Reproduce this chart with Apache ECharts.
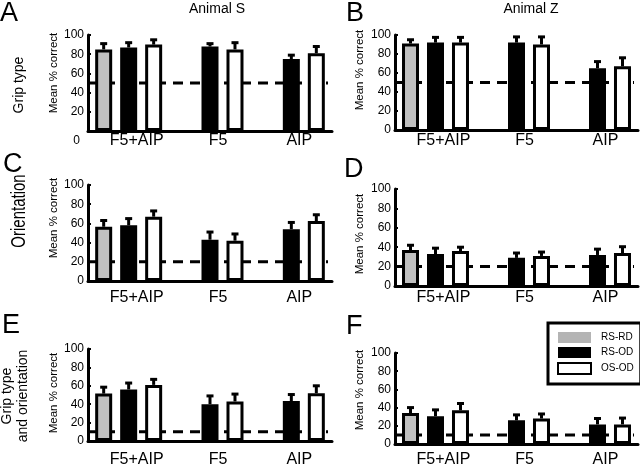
<!DOCTYPE html>
<html><head><meta charset="utf-8">
<script src="https://cdn.jsdelivr.net/npm/echarts@6/dist/echarts.min.js"></script>
<style>html,body{margin:0;padding:0;background:#fff}#c{width:640px;height:468px}</style>
</head><body><div id="c"></div>
<script>
// ---------------- data ----------------
const categories = ['F5+AIP', 'F5', 'AIP'];
const seriesNames = ['RS-RD', 'RS-OD', 'OS-OD'];
const yTicks = [0, 20, 40, 60, 80, 100];
const chanceLevel = [50, 50, 20, 20, 10, 10]; // panels A..F
const panelLetters = ['A', 'B', 'C', 'D', 'E', 'F'];
const columnTitles = ['Animal S', 'Animal Z'];
const rowTitles = ['Grip type', 'Orientation', 'Grip type\nand orientation'];
const yAxisTitle = 'Mean % correct';

// Panel A – Grip type, Animal S
const A_RSRD = [85, null, null], A_RSOD = [87, 88, 75], A_OSOD = [90, 85, 81];
const A_RSRD_err = [6, null, null], A_RSOD_err = [5, 3, 4], A_OSOD_err = [5, 7, 7];
// Panel B – Grip type, Animal Z
const B_RSRD = [91, null, null], B_RSOD = [92, 92, 65], B_OSOD = [92, 90, 67];
const B_RSRD_err = [4, null, null], B_RSOD_err = [5.5, 6, 7], B_OSOD_err = [5.5, 8, 9];
// Panel C – Orientation, Animal S
const C_RSRD = [56.5, null, null], C_RSOD = [58, 43, 54], C_OSOD = [67, 42, 62.5];
const C_RSRD_err = [6.5, null, null], C_RSOD_err = [7, 8, 7], C_OSOD_err = [6, 7, 6.5];
// Panel D – Orientation, Animal Z
const D_RSRD = [37, null, null], D_RSOD = [33, 29, 32], D_OSOD = [36, 31, 34];
const D_RSRD_err = [5, null, null], D_RSOD_err = [6, 5, 6], D_OSOD_err = [4, 4, 6.5];
// Panel E – Grip type and orientation, Animal S
const E_RSRD = [51.5, null, null], E_RSOD = [56, 40, 43.5], E_OSOD = [61, 43, 52];
const E_RSRD_err = [7, null, null], E_RSOD_err = [7, 9, 7], E_OSOD_err = [6, 8, 8];
// Panel F – Grip type and orientation, Animal Z
const F_RSRD = [34, null, null], F_RSOD = [30.5, 26, 21.5], F_OSOD = [37, 28, 21.5];
const F_RSRD_err = [6, null, null], F_RSOD_err = [7, 6, 6.5], F_OSOD_err = [7.5, 5, 7];

const panelValues = [
  [A_RSRD, A_RSOD, A_OSOD], [B_RSRD, B_RSOD, B_OSOD],
  [C_RSRD, C_RSOD, C_OSOD], [D_RSRD, D_RSOD, D_OSOD],
  [E_RSRD, E_RSOD, E_OSOD], [F_RSRD, F_RSOD, F_OSOD]
];
const panelErrors = [
  [A_RSRD_err, A_RSOD_err, A_OSOD_err], [B_RSRD_err, B_RSOD_err, B_OSOD_err],
  [C_RSRD_err, C_RSOD_err, C_OSOD_err], [D_RSRD_err, D_RSOD_err, D_OSOD_err],
  [E_RSRD_err, E_RSOD_err, E_OSOD_err], [F_RSRD_err, F_RSOD_err, F_OSOD_err]
];

// ---------------- layout / style ----------------
const FONT = 'Liberation Sans, Arial, Helvetica, sans-serif';
const gridRects = [
  {left: 88, top: 35, width: 244, height: 96},
  {left: 395, top: 35, width: 243, height: 95},
  {left: 88, top: 185, width: 244, height: 96},
  {left: 395, top: 189, width: 243, height: 97},
  {left: 88, top: 349, width: 244, height: 95},
  {left: 395, top: 353, width: 243, height: 94}
];
const xLabelMargin = [2, 3, 9, 4, 11, 8];
const fills = ['#c0c0c0', '#000000', '#ffffff'];
const BAR_W = 17, BAR_GAP = 0.47, SLOT = BAR_W * (1 + BAR_GAP);

const grids = [], xAxes = [], yAxes = [], series = [];
gridRects.forEach((r, p) => {
  grids.push(Object.assign({containLabel: false}, r));
  xAxes.push({
    type: 'category', gridIndex: p, data: categories,
    axisLine: {lineStyle: {color: '#000', width: 3}},
    axisTick: {show: false},
    axisLabel: {color: '#000', fontSize: 16, fontFamily: FONT, margin: xLabelMargin[p], padding: [0, 0, 0, 16]}
  });
  yAxes.push({
    type: 'value', gridIndex: p, min: yTicks[0], max: yTicks[yTicks.length - 1], interval: yTicks[1] - yTicks[0],
    axisLine: {show: true, lineStyle: {color: '#000', width: 3}},
    axisTick: {show: true, inside: true, length: 3, lineStyle: {color: '#000', width: 2}},
    splitLine: {show: false},
    axisLabel: {
      color: '#000', fontSize: 12, fontFamily: FONT, margin: 4,
      formatter: p === 0 ? (v => v === 0 ? '{z|0}' : String(v)) : (v => String(v)),
      rich: {z: {fontSize: 12, fontFamily: FONT, color: '#000', padding: [20, 4, 0, 0]}}
    }
  });
  // chance-level dashed line (drawn beneath the bars)
  series.push({
    type: 'custom', name: 'chance' + p, xAxisIndex: p, yAxisIndex: p, z: 1, silent: true,
    data: [[0, chanceLevel[p]]],
    renderItem: (params, api) => {
      const cs = params.coordSys;
      const y = api.coord([0, api.value(1)])[1];
      return {type: 'line', shape: {x1: cs.x, y1: y, x2: cs.x + cs.width - 4, y2: y},
        style: {stroke: '#000', lineWidth: 3, lineDash: [10, 7]}};
    }
  });
  for (let k = 0; k < 3; k++) {
    series.push({
      type: 'bar', name: seriesNames[k], xAxisIndex: p, yAxisIndex: p,
      data: panelValues[p][k].map(v => v == null ? '-' : v),
      barWidth: BAR_W, barGap: (BAR_GAP * 100) + '%',
      itemStyle: {color: fills[k], borderColor: '#000', borderWidth: 3},
      emphasis: {disabled: true}, silent: true, z: 3
    });
  }
  const errData = [];
  for (let k = 0; k < 3; k++) {
    panelValues[p][k].forEach((v, c) => {
      if (v != null) errData.push([c, v, panelErrors[p][k][c], k]);
    });
  }
  series.push({
    type: 'custom', name: 'err' + p, xAxisIndex: p, yAxisIndex: p, z: 4, silent: true,
    data: errData,
    renderItem: (params, api) => {
      const c = api.value(0), v = api.value(1), e = api.value(2), k = api.value(3);
      const base = api.coord([c, v]);
      const top = api.coord([c, v + e]);
      const x = base[0] + (k - 1) * SLOT;
      return {type: 'group', children: [
        {type: 'line', shape: {x1: x, y1: base[1], x2: x, y2: top[1]}, style: {stroke: '#000', lineWidth: 3}},
        {type: 'line', shape: {x1: x - 3.5, y1: top[1], x2: x + 3.5, y2: top[1]}, style: {stroke: '#000', lineWidth: 3}}
      ]};
    }
  });
});

const graphics = [];
const letterPos = [[0, 14], [346, 14], [3, 165], [344, 170], [2, 326], [346, 327]];
panelLetters.forEach((L, i) => graphics.push({
  type: 'text', x: letterPos[i][0], y: letterPos[i][1],
  style: {text: L, font: '27px ' + FONT, fill: '#000', align: 'left', verticalAlign: 'middle'}
}));
const colPos = [[217, 9], [531, 9]];
columnTitles.forEach((t, i) => graphics.push({
  type: 'text', x: colPos[i][0], y: colPos[i][1],
  style: {text: t, font: '14px ' + FONT, fill: '#000', align: 'center', verticalAlign: 'middle'}
}));
const yTitlePos = [[54, 73], [360, 70], [54, 218], [360, 234], [54, 393], [360, 390]];
yTitlePos.forEach(pos => graphics.push({
  type: 'text', x: pos[0], y: pos[1], rotation: Math.PI / 2,
  style: {text: yAxisTitle, font: '11.5px ' + FONT, fill: '#000', align: 'center', verticalAlign: 'middle'}
}));
const rowPos = [[19, 85], [19, 211], [15, 396]];
const rowFont = [14, 15, 14];
const rowStretch = [1, 1.36, 1];
rowTitles.forEach((t, i) => graphics.push({
  type: 'text', x: rowPos[i][0], y: rowPos[i][1], rotation: Math.PI / 2, scaleY: rowStretch[i],
  style: {text: t, font: rowFont[i] + 'px ' + FONT, fill: '#000', align: 'center', verticalAlign: 'middle', lineHeight: 16}
}));

const chart = echarts.init(document.getElementById('c'), null, {renderer: 'canvas'});
chart.setOption({
  animation: false,
  backgroundColor: '#fff',
  textStyle: {fontFamily: FONT},
  grid: grids, xAxis: xAxes, yAxis: yAxes, series: series,
  graphic: graphics,
  legend: {
    orient: 'vertical', left: 548, top: 323, padding: [9, 7, 9, 9],
    itemWidth: 33, itemHeight: 11, itemGap: 4, icon: 'rect', selectedMode: false,
    backgroundColor: '#fff', borderColor: '#000', borderWidth: 3, borderRadius: 0,
    textStyle: {fontSize: 10, fontFamily: FONT, color: '#000', padding: [0, 0, 0, 5]},
    data: [
      {name: 'RS-RD', itemStyle: {color: '#b4b4b4', borderWidth: 0}},
      {name: 'RS-OD', itemStyle: {color: '#000', borderWidth: 0}},
      {name: 'OS-OD', itemStyle: {color: '#fff', borderColor: '#000', borderWidth: 2}}
    ]
  }
});
</script></body></html>
